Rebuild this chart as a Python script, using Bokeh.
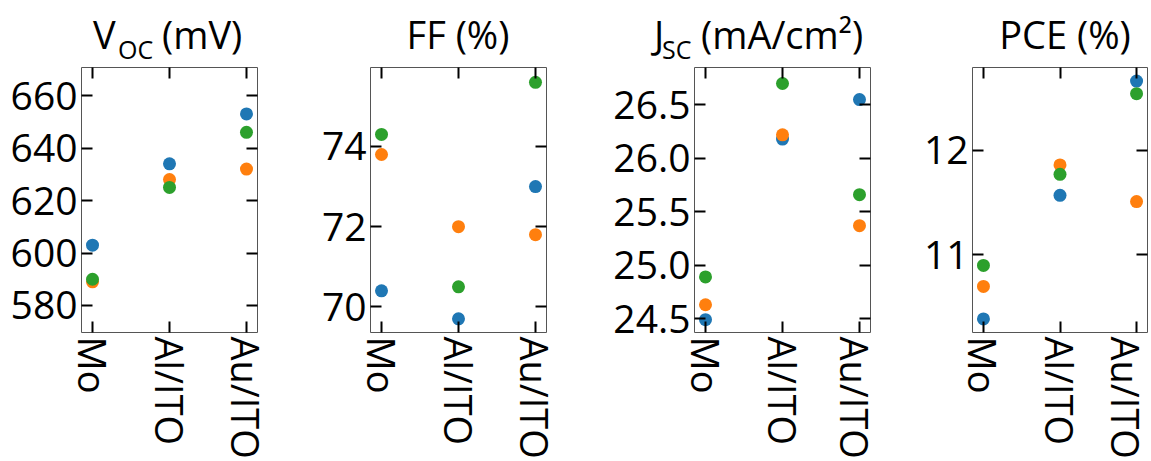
from bokeh.plotting import figure
from bokeh.layouts import row, column
from bokeh.models import Range1d, FixedTicker, LinearAxis, PrintfTickFormatter, ColumnDataSource, Div
from bokeh.embed import file_html
from bokeh.resources import INLINE

# ---- data ----
categories = ["Mo", "Al/ITO", "Au/ITO"]

voc_blue = [603, 634, 653]
voc_orange = [589, 628, 632]
voc_green = [590, 625, 646]

ff_blue = [70.4, 69.7, 73.0]
ff_orange = [73.8, 72.0, 71.8]
ff_green = [74.3, 70.5, 75.6]

jsc_blue = [24.49, 26.18, 26.55]
jsc_orange = [24.63, 26.22, 25.37]
jsc_green = [24.89, 26.70, 25.66]

pce_blue = [10.39, 11.57, 12.66]
pce_orange = [10.70, 11.86, 11.51]
pce_green = [10.90, 11.77, 12.54]

voc_ticks = [580, 600, 620, 640, 660]
ff_ticks = [70, 72, 74]
jsc_ticks = [24.5, 25.0, 25.5, 26.0, 26.5]
pce_ticks = [11, 12]

COLORS = ["#1f77b4", "#ff7f0e", "#2ca02c"]
FONT = "Open Sans"
TICK_FS = "39px"
XLAB_FS = "38px"
T_FS = 38
S_FS = 25

xs = list(range(len(categories)))
H = 461
DIV_H = 60
TOP = 7
BOTTOM = 129


def make_panel(width, left, right, yr, yticks, series, fmt=None):
    p = figure(width=width, height=H - DIV_H, min_border_left=left, min_border_right=right,
               min_border_top=TOP, min_border_bottom=BOTTOM,
               x_range=Range1d(-0.143, 2.143), y_range=Range1d(*yr),
               output_backend="svg", toolbar_location=None,
               x_axis_location=None, y_axis_location=None)
    p.xgrid.visible = False
    p.ygrid.visible = False
    p.outline_line_color = "#555555"
    p.outline_line_width = 1
    p.background_fill_color = "white"
    p.border_fill_color = "white"

    def style(ax, labels=True):
        ax.major_tick_in = 11
        ax.major_tick_out = 0
        ax.minor_tick_in = 0
        ax.minor_tick_out = 0
        ax.major_tick_line_width = 2
        ax.major_tick_line_color = "black"
        ax.axis_line_color = None
        ax.major_label_text_font = FONT
        ax.major_label_text_color = "black"
        if not labels:
            ax.major_label_text_font_size = "0px"
            ax.major_label_standoff = 0

    for side, lab in (("left", True), ("right", False)):
        ax = LinearAxis(ticker=FixedTicker(ticks=yticks))
        if fmt is not None:
            ax.formatter = PrintfTickFormatter(format=fmt)
        style(ax, lab)
        if lab:
            ax.major_label_text_font_size = TICK_FS
            ax.major_label_standoff = 4
        else:
            ax.major_label_overrides = {t: "" for t in yticks}
        p.add_layout(ax, side)
    for side, lab in (("below", True), ("above", False)):
        ax = LinearAxis(ticker=FixedTicker(ticks=xs))
        style(ax, lab)
        if lab:
            ax.major_label_overrides = {i: c for i, c in zip(xs, categories)}
            ax.major_label_orientation = "vertical"
            ax.major_label_text_font_size = XLAB_FS
            ax.major_label_standoff = 4
        else:
            ax.major_label_overrides = {i: "" for i in xs}
        p.add_layout(ax, side)

    for vals, col in zip(series, COLORS):
        src = ColumnDataSource(data=dict(x=xs, y=vals))
        p.scatter("x", "y", source=src, size=13, fill_color=col, line_color=None)
    return p


def span(text, left, baseline, size, center=False):
    top = baseline - 0.888 * size
    tr = "transform:translateX(-50%);" if center else ""
    return (f'<span style="position:absolute;left:{left}px;top:{top:.1f}px;font-size:{size}px;'
            f'line-height:{size}px;white-space:nowrap;{tr}">{text}</span>')


def title_div(width, spans):
    html = (f'<div style="position:relative;width:{width}px;height:{DIV_H}px;'
            f"font-family:'Open Sans';color:black;overflow:visible;\">" + "".join(spans) + "</div>")
    return Div(text=html, width=width, height=DIV_H, margin=0)


W1, W2, W3, W4 = 290, 290, 300, 271

p1 = make_panel(W1, 81, 33, (569.7, 670.7), voc_ticks, [voc_blue, voc_orange, voc_green])
d1 = title_div(W1, [span("V", 93, 48.3, T_FS), span("OC", 118, 59.3, S_FS), span("(mV)", 162, 48.3, T_FS)])

p2 = make_panel(W2, 80, 34, (69.36, 75.97), ff_ticks, [ff_blue, ff_orange, ff_green])
d2 = title_div(W2, [span("FF (%)", 168, 48.3, T_FS, center=True)])

p3 = make_panel(W3, 114, 10, (24.37, 26.85), jsc_ticks, [jsc_blue, jsc_orange, jsc_green], fmt="%.1f")
d3 = title_div(W3, [span("J", 74, 48.3, T_FS), span("SC", 82, 59.3, S_FS), span("(mA/cm²)", 121, 48.3, T_FS)])

p4 = make_panel(W4, 92, 4, (10.26, 12.79), pce_ticks, [pce_blue, pce_orange, pce_green])
d4 = title_div(W4, [span("PCE (%)", 185, 48.3, T_FS, center=True)])

layout = row(column(d1, p1, spacing=0), column(d2, p2, spacing=0),
             column(d3, p3, spacing=0), column(d4, p4, spacing=0), spacing=0)

html = file_html(layout, INLINE, "chart")
with open("out.html", "w") as f:
    f.write(html)
